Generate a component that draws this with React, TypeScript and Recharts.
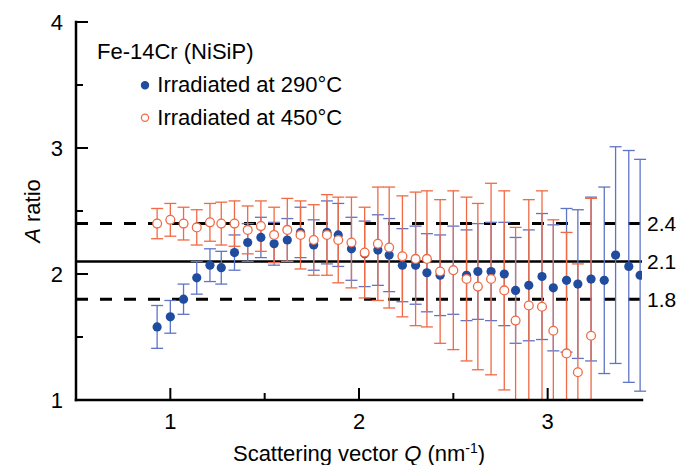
import React from 'react';
import { ScatterChart, Scatter, XAxis, YAxis, ErrorBar, ReferenceLine, Legend, Label } from 'recharts';

// ---- data ----
const Q_VALUES = [0.93, 1.0, 1.07, 1.14, 1.21, 1.27, 1.34, 1.41, 1.48, 1.55, 1.62, 1.69, 1.76, 1.83, 1.89, 1.96, 2.03, 2.1, 2.16, 2.23, 2.3, 2.36, 2.43, 2.5, 2.57, 2.63, 2.7, 2.77, 2.83, 2.9, 2.97, 3.03, 3.1, 3.16, 3.23, 3.3, 3.36, 3.43, 3.49];
const A_290 = [1.58, 1.66, 1.8, 1.97, 2.07, 2.05, 2.17, 2.25, 2.29, 2.24, 2.27, 2.33, 2.23, 2.33, 2.31, 2.2, 2.16, 2.19, 2.15, 2.07, 2.07, 2.01, 1.99, 2.03, 1.99, 2.02, 2.02, 2.0, 1.87, 1.91, 1.98, 1.89, 1.95, 1.92, 1.96, 1.95, 2.15, 2.06, 1.99];
const ERR_290 = [0.17, 0.13, 0.12, 0.13, 0.13, 0.13, 0.14, 0.15, 0.16, 0.17, 0.17, 0.2, 0.2, 0.25, 0.25, 0.25, 0.26, 0.28, 0.29, 0.29, 0.31, 0.31, 0.32, 0.35, 0.36, 0.38, 0.39, 0.41, 0.42, 0.44, 0.5, 0.5, 0.57, 0.59, 0.65, 0.74, 0.86, 0.92, 0.92];
const A_450 = [2.4, 2.43, 2.4, 2.37, 2.41, 2.4, 2.4, 2.35, 2.38, 2.31, 2.35, 2.31, 2.27, 2.31, 2.27, 2.25, 2.17, 2.24, 2.21, 2.14, 2.12, 2.12, 2.02, 2.03, 1.96, 1.9, 1.96, 1.87, 1.63, 1.75, 1.74, 1.55, 1.37, 1.22, 1.51];
const ERR_450 = [0.12, 0.13, 0.13, 0.14, 0.15, 0.17, 0.18, 0.19, 0.2, 0.22, 0.25, 0.27, 0.28, 0.32, 0.34, 0.36, 0.36, 0.45, 0.48, 0.48, 0.53, 0.54, 0.57, 0.63, 0.65, 0.66, 0.76, 0.79, 0.74, 0.84, 0.92, 0.88, 0.96, 0.86, 1.09];

const X_TICKS = [1, 1.5, 2, 2.5, 3];
const Y_TICKS = [1, 1.5, 2, 2.5, 3, 3.5, 4];
const X_DOMAIN = [0.5, 3.5];
const Y_DOMAIN = [1, 4];
const DASHED_REFS = [2.4, 1.8];
const SOLID_REF = 2.1;

const LEGEND_TITLE = 'Fe-14Cr (NiSiP)';
const SERIES_290 = 'Irradiated at 290°C';
const SERIES_450 = 'Irradiated at 450°C';

// error bars are cut at the plot frame, as in the original figure
const clipErr = (a: number, e: number) => [Math.min(e, a - Y_DOMAIN[0]), Math.min(e, Y_DOMAIN[1] - a)];
const data290 = Q_VALUES.map((q, i) => ({ q, a: A_290[i], err: clipErr(A_290[i], ERR_290[i]) }));
const data450 = A_450.map((a, i) => ({ q: Q_VALUES[i], a, err: clipErr(a, ERR_450[i]) }));

// ---- style ----
const FONT = '"Liberation Sans", Arial, Helvetica, sans-serif';
const BLUE = '#1f4c9f';
const BLUE_ERR = '#5f74c6';
const ORANGE = '#f06a45';
const FS = 22;
const TICK_MARGIN = 13;
const MAJOR_LEN = 12;
const MINOR_LEN = 7;
const AXIS_STYLE = { stroke: '#000', strokeWidth: 2.5, strokeLinecap: 'square' as const };

const SERIES = [
  { name: SERIES_290, color: BLUE, filled: true },
  { name: SERIES_450, color: ORANGE, filled: false },
];

const isMajor = (v: number) => Math.abs(v - Math.round(v)) < 1e-6;

const BottomTick = (props: any) => {
  const { x, y, payload } = props;
  const v = payload.value;
  const ay = y - TICK_MARGIN;
  const major = isMajor(v);
  return (
    <g>
      <line x1={x} x2={x} y1={ay} y2={ay - (major ? MAJOR_LEN : MINOR_LEN)} stroke="#000" strokeWidth={2} />
      {major && (
        <text x={x} y={y} dy="0.72em" textAnchor="middle" fontSize={FS} fontFamily={FONT} fill="#000">
          {v}
        </text>
      )}
    </g>
  );
};

const TopTick = (props: any) => {
  const { x, y, payload } = props;
  const v = payload.value;
  return <line x1={x} x2={x} y1={y} y2={y + (isMajor(v) ? MAJOR_LEN : MINOR_LEN)} stroke="#000" strokeWidth={2} />;
};

const LeftTick = (props: any) => {
  const { x, y, payload } = props;
  const v = payload.value;
  const ax = x + TICK_MARGIN;
  const major = isMajor(v);
  return (
    <g>
      <line x1={ax} x2={ax + (major ? MAJOR_LEN : MINOR_LEN)} y1={y} y2={y} stroke="#000" strokeWidth={2} />
      {major && (
        <text x={x} y={y} dy="0.36em" textAnchor="end" fontSize={FS} fontFamily={FONT} fill="#000">
          {v}
        </text>
      )}
    </g>
  );
};

const RightTick = (props: any) => {
  const { x, y, payload } = props;
  const v = payload.value;
  return <line x1={x} x2={x - (isMajor(v) ? MAJOR_LEN : MINOR_LEN)} y1={y} y2={y} stroke="#000" strokeWidth={2} />;
};

const YTitle = (props: any) => {
  const { viewBox } = props;
  const cx = viewBox.x + 32;
  const cy = viewBox.y + viewBox.height / 2;
  return (
    <text x={cx} y={cy} transform={`rotate(-90 ${cx} ${cy})`} textAnchor="middle" dy="0.36em" fontSize={FS} fontFamily={FONT} fill="#000">
      <tspan fontStyle="italic">A</tspan>
      {' ratio'}
    </text>
  );
};

const XTitle = (props: any) => {
  const { viewBox } = props;
  const cx = viewBox.x + viewBox.width / 2;
  const by = viewBox.y + 61;
  return (
    <text x={cx} y={by} textAnchor="middle" fontSize={FS} fontFamily={FONT} fill="#000">
      {'Scattering vector '}
      <tspan fontStyle="italic">Q</tspan>
      {' (nm'}
      <tspan dy={-8} fontSize={14}>-1</tspan>
      <tspan dy={8}>)</tspan>
    </text>
  );
};

const renderLegend = (props: any) => {
  const payload: any[] = props.payload || [];
  const items = SERIES.filter((s) => payload.some((p) => p.value === s.name));
  return (
    <svg width={300} height={110} style={{ display: 'block', overflow: 'visible' }}>
      <text x={17} y={30.7} fontSize={FS} fontFamily={FONT} fill="#000">
        {LEGEND_TITLE}
      </text>
      {items.map((s, i) => {
        const cy = 57.3 + i * 32.5;
        return (
          <g key={s.name}>
            <circle cx={65} cy={cy} r={3.6} fill={s.filled ? s.color : '#fff'} stroke={s.color} strokeWidth={1.2} />
            <text x={77.3} y={cy + 7} fontSize={FS} fontFamily={FONT} fill="#000">
              {s.name}
            </text>
          </g>
        );
      })}
    </svg>
  );
};

const BlueDot = (props: any) => <circle cx={props.cx} cy={props.cy} r={4.6} fill={BLUE} stroke="none" />;
const OrangeDot = (props: any) => (
  <circle cx={props.cx} cy={props.cy} r={4.4} fill="#fff" stroke={ORANGE} strokeWidth={1.3} />
);

const refLabel = (v: number) => ({
  value: String(v),
  position: 'right' as const,
  offset: 5,
  fontSize: 21,
  fontFamily: FONT,
  fill: '#000',
});

export default function App() {
  return (
    <div style={{ position: 'absolute', left: 0, top: 0, width: 677, height: 465, background: '#fff' }}>
      <ScatterChart width={677} height={465} margin={{ top: 22, right: 35, bottom: 0, left: 0 }}>
        <XAxis
          dataKey="q"
          type="number"
          domain={X_DOMAIN}
          ticks={X_TICKS}
          interval={0}
          allowDataOverflow
          height={65}
          tickSize={0}
          tickMargin={TICK_MARGIN}
          tickLine={false}
          axisLine={AXIS_STYLE}
          tick={<BottomTick />}
        >
          <Label content={<XTitle />} />
        </XAxis>
        <XAxis
          xAxisId="top"
          orientation="top"
          type="number"
          domain={X_DOMAIN}
          ticks={X_TICKS}
          interval={0}
          allowDataOverflow
          height={0}
          tickSize={0}
          tickMargin={0}
          tickLine={false}
          axisLine={AXIS_STYLE}
          tick={<TopTick />}
        />
        <YAxis
          dataKey="a"
          type="number"
          domain={Y_DOMAIN}
          ticks={Y_TICKS}
          interval={0}
          allowDataOverflow
          width={76}
          tickSize={0}
          tickMargin={TICK_MARGIN}
          tickLine={false}
          axisLine={AXIS_STYLE}
          tick={<LeftTick />}
        >
          <Label content={<YTitle />} />
        </YAxis>
        <YAxis
          yAxisId="right"
          orientation="right"
          type="number"
          domain={Y_DOMAIN}
          ticks={Y_TICKS}
          interval={0}
          allowDataOverflow
          width={0}
          tickSize={0}
          tickMargin={0}
          tickLine={false}
          axisLine={AXIS_STYLE}
          tick={<RightTick />}
        />
        {DASHED_REFS.map((v) => (
          <ReferenceLine key={v} y={v} stroke="#000" strokeWidth={3} strokeDasharray="12 12" label={refLabel(v)} />
        ))}
        <ReferenceLine y={SOLID_REF} stroke="#000" strokeWidth={2.5} label={refLabel(SOLID_REF)} />
        <Scatter name={SERIES_290} data={data290} dataKey="a" fill={BLUE} shape={<BlueDot />} isAnimationActive={false}>
          <ErrorBar dataKey="err" direction="y" width={6} stroke={BLUE_ERR} strokeWidth={1.3} isAnimationActive={false} />
        </Scatter>
        <Scatter name={SERIES_450} data={data450} dataKey="a" fill={ORANGE} shape={<OrangeDot />} isAnimationActive={false}>
          <ErrorBar dataKey="err" direction="y" width={6} stroke={ORANGE} strokeWidth={1.3} isAnimationActive={false} />
        </Scatter>
        <Legend
          layout="vertical"
          align="center"
          verticalAlign="middle"
          content={renderLegend}
          wrapperStyle={{ left: 80, top: 28, width: 300, height: 110, margin: 0, padding: 0 }}
        />
      </ScatterChart>
    </div>
  );
}
